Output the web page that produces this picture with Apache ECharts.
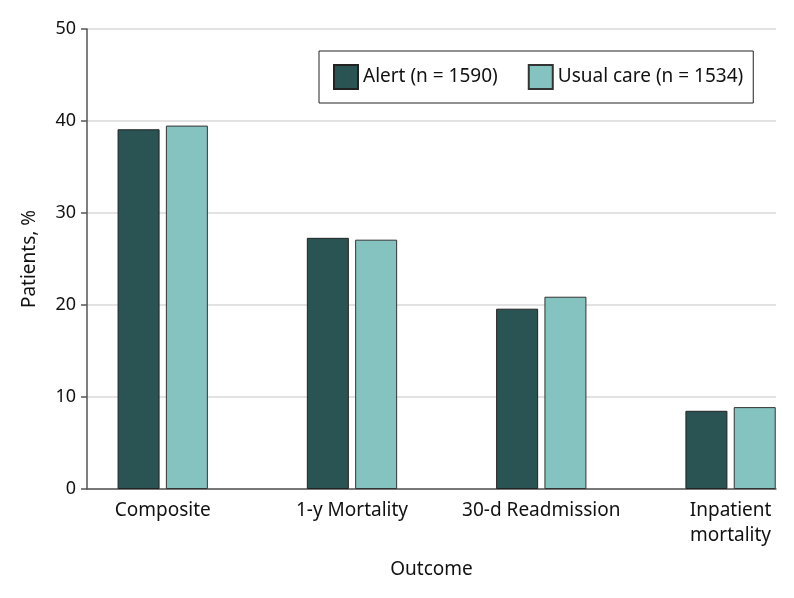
<!DOCTYPE html>
<html>
<head>
<meta charset="utf-8">
<script src="https://cdn.jsdelivr.net/npm/echarts@6/dist/echarts.min.js"></script>
<style>html,body{margin:0;padding:0;background:#fff}#c{width:794px;height:598px}</style>
</head>
<body>
<div id="c"></div>
<script>
var categories = ['Composite', '1-y Mortality', '30-d Readmission', 'Inpatient\nmortality'];
var seriesNames = ['Alert (n = 1590)', 'Usual care (n = 1534)'];
var alertValues = [39.1, 27.3, 19.6, 8.5];
var usualValues = [39.5, 27.1, 20.9, 8.9];
var yTicks = [0, 10, 20, 30, 40, 50];

var FONT = 'Noto Sans';
var chart = echarts.init(document.getElementById('c'), null, {renderer: 'canvas'});

function toPairs(vals) { return vals.map(function (v, i) { return [i, v]; }); }

chart.setOption({
  animation: false,
  backgroundColor: '#fff',
  textStyle: {fontFamily: FONT},
  grid: {left: 87, right: 18, top: 29, bottom: 109, containLabel: false},
  legend: {
    left: 319, top: 51,
    orient: 'horizontal',
    padding: [13, 10, 13, 14],
    borderColor: '#222', borderWidth: 1,
    itemWidth: 24, itemHeight: 24, itemGap: 30,
    icon: 'rect',
    textStyle: {fontFamily: FONT, fontSize: 19, color: '#111'},
    data: seriesNames
  },
  xAxis: {
    type: 'value',
    min: -0.4, max: 3.24,
    name: 'Outcome', nameLocation: 'middle', nameGap: 71,
    nameTextStyle: {fontFamily: FONT, fontSize: 19, color: '#111'},
    axisLine: {show: true, onZero: false, lineStyle: {color: '#555', width: 1.5}},
    axisTick: {show: false},
    splitLine: {show: false},
    axisLabel: {
      customValues: [0, 1, 2, 3],
      formatter: function (v) { return categories[Math.round(v)]; },
      fontFamily: FONT, fontSize: 19, color: '#111', margin: 9, lineHeight: 25
    }
  },
  yAxis: {
    type: 'value', min: 0, max: 50, interval: 10,
    name: 'Patients, %', nameLocation: 'middle', nameGap: 48, nameRotate: 90,
    nameTextStyle: {fontFamily: FONT, fontSize: 19, color: '#111'},
    axisLine: {show: true, onZero: false, lineStyle: {color: '#555', width: 1.5}},
    axisTick: {show: true, inside: false, length: 6, lineStyle: {color: '#555', width: 1.5}},
    splitLine: {show: true, lineStyle: {color: '#d9d9d9', width: 1.5}},
    axisLabel: {
      formatter: function (v) { return yTicks.indexOf(v) >= 0 ? String(v) : ''; },
      fontFamily: FONT, fontSize: 18, color: '#111', margin: 11
    }
  },
  series: [
    {
      name: seriesNames[0], type: 'bar', data: toPairs(alertValues),
      barWidth: 42, barGap: '15%',
      itemStyle: {color: '#2a5353', borderColor: '#222', borderWidth: 1}
    },
    {
      name: seriesNames[1], type: 'bar', data: toPairs(usualValues),
      barWidth: 42, barGap: '15%',
      itemStyle: {color: '#85c3c1', borderColor: '#333', borderWidth: 1}
    }
  ]
});
</script>
</body>
</html>
